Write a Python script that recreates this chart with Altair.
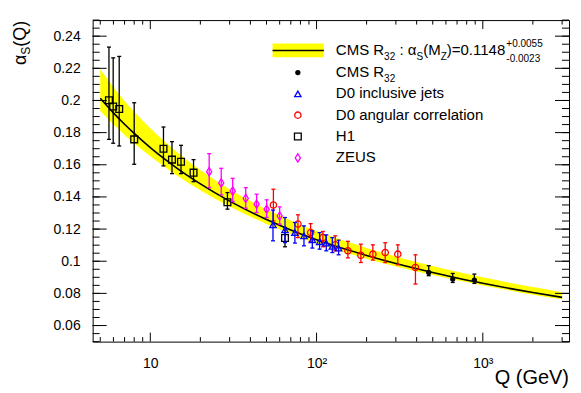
import altair as alt
import pandas as pd

FONT = "Liberation Sans"
W, H = 476.6, 321.7

# ---------------- data ----------------
fit_q = [5, 6, 7, 8, 10, 12, 15, 20, 30, 50, 70, 100, 150, 200, 300, 500, 700, 1000, 1500, 2000, 3000]
fit_a = [0.2014, 0.1923, 0.1852, 0.1795, 0.1707, 0.1641, 0.1567, 0.1481, 0.1374, 0.1260, 0.1195,
         0.1134, 0.1074, 0.1036, 0.0986, 0.0930, 0.0896, 0.0863, 0.0828, 0.0805, 0.0775]
fit_hi = [0.2194, 0.2083, 0.1997, 0.1930, 0.1827, 0.1751, 0.1665, 0.1567, 0.1448, 0.1323, 0.1253,
          0.1188, 0.1124, 0.1083, 0.1030, 0.0971, 0.0935, 0.0900, 0.0863, 0.0839, 0.0807]
fit_lo = [0.1934, 0.1851, 0.1786, 0.1734, 0.1653, 0.1592, 0.1523, 0.1442, 0.1341, 0.1232, 0.1170,
          0.1111, 0.1053, 0.1016, 0.0968, 0.0914, 0.0881, 0.0849, 0.0815, 0.0792, 0.0763]

cms_q = [472.9, 659.2, 889.8]
cms_a = [0.0930, 0.0889, 0.0883]
cms_lo = [0.0910, 0.0868, 0.0862]
cms_hi = [0.0972, 0.0924, 0.0920]

d0inc_q = [54.7, 64.6, 74.1, 84.0, 94.3, 104.3, 114.4, 124.4, 135.7]
d0inc_a = [0.1226, 0.1195, 0.1178, 0.1158, 0.1133, 0.1121, 0.1113, 0.1092, 0.1082]
d0inc_lo = [0.1127, 0.1116, 0.1113, 0.1096, 0.1082, 0.1075, 0.1065, 0.1054, 0.1040]
d0inc_hi = [0.1318, 0.1272, 0.1241, 0.1220, 0.1189, 0.1178, 0.1164, 0.1147, 0.1131]

d0ang_q = [55.0, 77.3, 92.1, 109.2, 129.6, 154.3, 184.7, 218.1, 258.8, 308.1, 393.4]
d0ang_a = [0.1350, 0.1231, 0.1178, 0.1147, 0.1102, 0.1065, 0.1037, 0.1044, 0.1054, 0.1044, 0.0961]
d0ang_lo = [0.1251, 0.1147, 0.1122, 0.1090, 0.1065, 0.1021, 0.0992, 0.1007, 0.0992, 0.0978, 0.0858]
d0ang_hi = [0.1448, 0.1289, 0.1234, 0.1185, 0.1158, 0.1124, 0.1106, 0.1102, 0.1115, 0.1102, 0.1040]

h1_q = [5.64, 5.98, 6.50, 8.0, 12.0, 13.5, 15.3, 18.2, 29.1, 64.6]
h1_a = [0.2001, 0.1963, 0.1947, 0.1758, 0.1700, 0.1632, 0.1619, 0.1551, 0.1367, 0.1144]
h1_lo = [0.1758, 0.1734, 0.1717, 0.1603, 0.1593, 0.1545, 0.1545, 0.1495, 0.1324, 0.1090]
h1_hi = [0.2332, 0.2265, 0.2274, 0.1986, 0.1835, 0.1744, 0.1721, 0.1632, 0.1427, 0.1210]

zeus_q = [22.6, 26.7, 31.3, 37.5, 43.6, 50.1, 60.0]
zeus_a = [0.1557, 0.1487, 0.1437, 0.1391, 0.1355, 0.1324, 0.1282]
zeus_lo = [0.1458, 0.1413, 0.1371, 0.1330, 0.1303, 0.1272, 0.1231]
zeus_hi = [0.1669, 0.1578, 0.1516, 0.1458, 0.1417, 0.1382, 0.1338]

x_major = [10, 100, 1000]
x_minor = [5, 6, 7, 8, 9, 20, 30, 40, 50, 60, 70, 80, 90,
           200, 300, 400, 500, 600, 700, 800, 900, 2000, 3000]
y_major = [0.06, 0.08, 0.10, 0.12, 0.14, 0.16, 0.18, 0.20, 0.22, 0.24]
y_minor = [round(0.05 + 0.005 * i, 3) for i in range(41)]

legend_labels = ["CMS R", "D0 inclusive jets", "D0 angular correlation", "H1", "ZEUS"]
fit_label_value = ")=0.1148"
fit_err_up = "+0.0055"
fit_err_dn = "-0.0023"

# ---------------- scales / encodings ----------------
xs = alt.Scale(type="log", domain=[4.5, 3300], nice=False)
ys = alt.Scale(domain=[0.05, 0.25], nice=False, zero=False)

x_axis = alt.Axis(values=x_major, ticks=False, tickSize=0, domain=False, grid=False,
                  labelExpr="datum.value < 50 ? '10' : (datum.value < 500 ? '10\u00b2' : '10\u00b3')",
                  labelFont=FONT, labelFontSize=14, labelColor="black", labelPadding=15, title=None)
y_axis = alt.Axis(values=y_major, format=".2~f", ticks=False, tickSize=0, domain=False, grid=False,
                  labelFont=FONT, labelFontSize=14, labelColor="black", labelPadding=12.5, title=None)


def X(f="q"):
    return alt.X(f"{f}:Q", scale=xs, axis=x_axis)


def Y(f="a"):
    return alt.Y(f"{f}:Q", scale=ys, axis=y_axis)


def df(q, a, lo, hi):
    return pd.DataFrame({"q": q, "a": a, "lo": lo, "hi": hi})


fit_df = df(fit_q, fit_a, fit_lo, fit_hi)

layers = []
layers.append(alt.Chart(fit_df).mark_area(color="#ffff00", opacity=1, interpolate="monotone")
              .encode(x=X(), y=Y("lo"), y2="hi:Q"))
layers.append(alt.Chart(fit_df).mark_line(color="black", strokeWidth=1.6, interpolate="monotone")
              .encode(x=X(), y=Y("a")))

CAP = "M-1,0L1,0"
DIAMOND = "M0,-1L0.62,0L0,1L-0.62,0Z"

series = [
    (df(h1_q, h1_a, h1_lo, h1_hi), "black", dict(shape="square", filled=False, size=46, strokeWidth=1.3)),
    (df(zeus_q, zeus_a, zeus_lo, zeus_hi), "#ff00ff", dict(shape=DIAMOND, filled=False, size=70, strokeWidth=1.3)),
    (df(d0ang_q, d0ang_a, d0ang_lo, d0ang_hi), "#ff0000", dict(shape="circle", filled=False, size=40, strokeWidth=1.3)),
    (df(d0inc_q, d0inc_a, d0inc_lo, d0inc_hi), "#0000ff", dict(shape="triangle-up", filled=False, size=40, strokeWidth=1.3)),
    (df(cms_q, cms_a, cms_lo, cms_hi), "black", dict(shape="circle", filled=True, size=28, strokeWidth=0)),
]

for d, col, mk in series:
    layers.append(alt.Chart(d).mark_rule(color=col, strokeWidth=1.3).encode(x=X(), y=Y("lo"), y2="hi:Q"))
    layers.append(alt.Chart(d).mark_point(shape=CAP, size=16, color=col, strokeWidth=1.3, opacity=1)
                  .encode(x=X(), y=Y("hi")))
    layers.append(alt.Chart(d).mark_point(shape=CAP, size=16, color=col, strokeWidth=1.3, opacity=1)
                  .encode(x=X(), y=Y("lo")))
    layers.append(alt.Chart(d).mark_point(color=col, opacity=1, **mk).encode(x=X(), y=Y("a")))

# ---------------- axis ticks (inside the frame, all four sides) ----------------
xmaj = pd.DataFrame({"q": x_major})
xmin = pd.DataFrame({"q": x_minor})
ymaj = pd.DataFrame({"a": y_major})
ymin = pd.DataFrame({"a": y_minor})
for d, L in [(xmaj, 9), (xmin, 4.5)]:
    layers.append(alt.Chart(d).mark_rule(color="black", strokeWidth=1)
                  .encode(x=X(), y=alt.value(H), y2=alt.value(H - L)))
    layers.append(alt.Chart(d).mark_rule(color="black", strokeWidth=1)
                  .encode(x=X(), y=alt.value(0), y2=alt.value(L)))
for d, L in [(ymaj, 14), (ymin, 7)]:
    layers.append(alt.Chart(d).mark_rule(color="black", strokeWidth=1)
                  .encode(y=Y(), x=alt.value(0), x2=alt.value(L)))
    layers.append(alt.Chart(d).mark_rule(color="black", strokeWidth=1)
                  .encode(y=Y(), x=alt.value(W), x2=alt.value(W - L)))

one = pd.DataFrame({"k": [0]})


def txt(s, x, y, fs, **kw):
    opts = dict(text=s, fontSize=fs, font=FONT, align="left", baseline="alphabetic", color="black")
    opts.update(kw)
    return alt.Chart(one).mark_text(**opts).encode(x=alt.value(x), y=alt.value(y))


# ---------------- legend ----------------
LX_M, LX_T = 205.3, 243.3
layers.append(alt.Chart(one).mark_rect(color="#ffff00")
              .encode(x=alt.value(180), x2=alt.value(231.3), y=alt.value(23.3), y2=alt.value(37.3)))
layers.append(alt.Chart(one).mark_rule(color="black", strokeWidth=1.6)
              .encode(x=alt.value(180), x2=alt.value(231.3), y=alt.value(30.5)))
b1 = 35
layers += [
    txt("CMS R", LX_T, b1, 15),
    txt("32", 291.6, b1 + 4.5, 10),
    txt(":", 306.9, b1, 15),
    txt("\u03b1", 315.3, b1, 15),
    txt("S", 324.0, b1 + 4.5, 10),
    txt("(M", 330.7, b1, 15),
    txt("Z", 348.2, b1 + 4.5, 10),
    txt(fit_label_value, 354.3, b1, 15),
    txt(fit_err_up, 413.9, b1 - 8.5, 10),
    txt(fit_err_dn, 413.9, b1 + 6.5, 10),
]
row_marker_y = [52.5, 73.8, 95.1, 116.5, 137.9]
marks = [
    dict(shape="circle", filled=True, size=28, color="black", strokeWidth=0),
    dict(shape="triangle-up", filled=False, size=40, color="#0000ff", strokeWidth=1.3),
    dict(shape="circle", filled=False, size=40, color="#ff0000", strokeWidth=1.3),
    dict(shape="square", filled=False, size=46, color="black", strokeWidth=1.3),
    dict(shape=DIAMOND, filled=False, size=70, color="#ff00ff", strokeWidth=1.3),
]
for lab, ym, mk in zip(legend_labels, row_marker_y, marks):
    layers.append(alt.Chart(one).mark_point(opacity=1, **mk).encode(x=alt.value(LX_M), y=alt.value(ym)))
    layers.append(txt(lab, LX_T, ym + 4.5, 15))
layers.append(txt("32", 291.6, row_marker_y[0] + 9, 10))

# ---------------- axis titles ----------------
layers += [
    txt("\u03b1", -66.5, 45, 18, angle=270),
    txt("S", -62.5, 34.6, 12, angle=270),
    txt("(Q)", -66.5, 26.6, 18, angle=270),
    txt("Q (GeV)", W, 364, 20, align="right"),
]

chart = (alt.layer(*layers)
         .properties(width=W, height=H,
                     autosize=alt.AutoSizeParams(type="none"),
                     padding={"left": 84.7, "top": 12, "right": 4, "bottom": 50})
         .configure_view(stroke="black", strokeWidth=1))

chart.save("out.html", embed_options={"renderer": "svg", "actions": False})
